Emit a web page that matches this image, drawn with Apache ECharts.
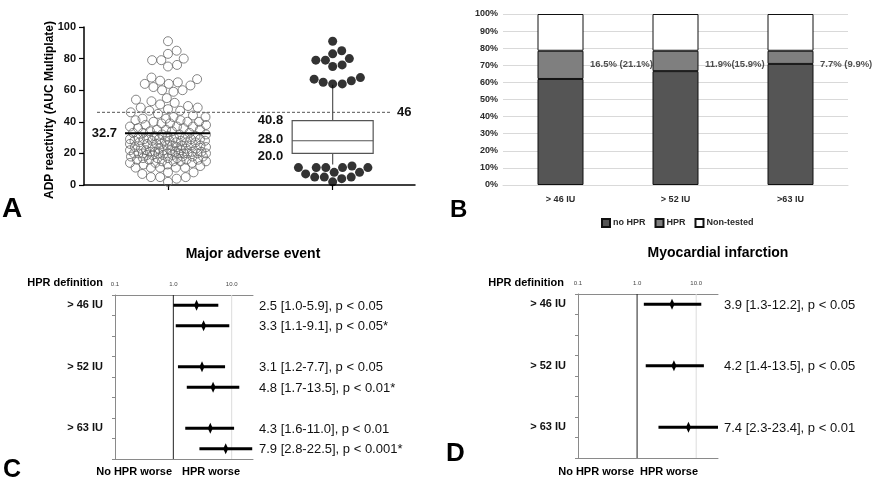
<!DOCTYPE html>
<html>
<head>
<meta charset="utf-8">
<script src="https://cdn.jsdelivr.net/npm/echarts@6/dist/echarts.min.js"></script>
<style>html,body{margin:0;padding:0;background:#fff}#c{width:872px;height:480px}</style>
</head>
<body>
<div id="c"></div>
<script>
// ---------- Panel A data ----------
const adpValues = [
  91, 85, 83, 80, 79, 79, 76, 75, 68, 67, 66, 65, 64, 64,
  63, 62, 60, 60, 59, 55, 54, 53, 52, 51, 50, 49, 49, 48, 47, 47, 46, 45, 44, 43, 43, 42, 42, 41, 41,
  40, 40, 40, 39, 39, 38, 38, 37, 37, 37, 36, 36, 35, 35, 35, 34, 34, 33, 33, 33, 32, 32, 32, 31, 31, 31,
  30, 30, 30, 30, 29, 29, 29, 29, 29, 28, 28, 28, 28, 28, 28,
  27, 27, 27, 27, 26, 26, 26, 26, 25, 25, 25, 25, 25, 24, 24, 24, 24, 23, 23, 23, 23, 22, 22, 22, 22, 22,
  21, 21, 21, 21, 21, 20, 20, 20, 20, 20, 20, 20, 20, 20, 20,
  19, 19, 19, 19, 18, 18, 18, 18, 17, 17, 17, 17, 16, 16, 16, 16, 15, 15, 15, 15, 14, 14, 14, 13, 13,
  12, 11, 11, 11, 11, 11, 8, 8, 7, 5, 5, 5, 4, 2
];
const adpMean = 32.7;
const adpQ1 = 20.0, adpMedian = 28.0, adpQ3 = 40.8;
const adpWhiskerLow = 13.0, adpWhiskerHigh = 63.5;
const adpThreshold = 46;

// ---------- Panel B data ----------
const bCategories = ['> 46 IU', '> 52 IU', '>63 IU'];
const bNoHPR = [62.0, 66.6, 70.8];
const bHPR = [16.5, 11.9, 7.7];
const bNonTested = [21.5, 21.5, 21.5];
const bNotes = ['16.5% (21.1%)', '11.9%(15.9%)', '7.7% (9.9%)'];
const bNoteLevel = 70.8;

// ---------- Panel C data ----------
const hprLabels = ['> 46 IU', '> 52 IU', '> 63 IU'];
const cSlots = [0, 1, 3, 4, 6, 7];
const cEst = [2.5, 3.3, 3.1, 4.8, 4.3, 7.9];
const cLo = [1.0, 1.1, 1.2, 1.7, 1.6, 2.8];
const cHi = [5.9, 9.1, 7.7, 13.5, 11.0, 22.5];
const cP = ['p < 0.05', 'p < 0.05*', 'p < 0.05', 'p < 0.01*', 'p < 0.01', 'p < 0.001*'];

// ---------- Panel D data ----------
const dSlots = [0, 3, 6];
const dEst = [3.9, 4.2, 7.4];
const dLo = [1.3, 1.4, 2.3];
const dHi = [12.2, 13.5, 23.4];
const dP = ['p < 0.05', 'p < 0.05', 'p < 0.01'];

const logTicks = [0.1, 1, 10];
const refLine = 1;

// ---------- layout ----------
const FONT = '"Liberation Sans", Arial, sans-serif';
const gA = {left: 84, top: 27, width: 331, height: 158};
const gB = {left: 503, top: 14, width: 345, height: 171};
const gC = {left: 115, top: 295, width: 138, height: 164};
const gD = {left: 578, top: 294, width: 140, height: 164};
const axAMin = -0.51, axAMax = 1.5;
const pxX = gA.width / (axAMax - axAMin);
const pxY = gA.height / 100;

// beeswarm layout (pixel space), returns [xUnits, value]
function swarm(values, center, minDist, cap) {
  const pts = values.map(v => ({v: v, y: v * pxY})).sort((a, b) => a.y - b.y);
  const placed = [];
  const md2 = minDist * minDist;
  for (const p of pts) {
    const near = placed.filter(q => Math.abs(q.y - p.y) < minDist);
    const cands = [0];
    for (const q of near) {
      const dx = Math.sqrt(md2 - (q.y - p.y) * (q.y - p.y));
      cands.push(q.x + dx, q.x - dx);
    }
    cands.sort((a, b) => Math.abs(a) - Math.abs(b));
    let best = null;
    for (const c of cands) {
      if (Math.abs(c) > cap + 1e-6) continue;
      if (near.every(q => (q.x - c) * (q.x - c) + (q.y - p.y) * (q.y - p.y) >= md2 - 1e-6)) { best = c; break; }
    }
    if (best === null) {
      let bs = -Infinity;
      for (let c = -cap; c <= cap + 1e-6; c += 0.5) {
        const d = Math.min.apply(null, near.map(q => Math.hypot(q.x - c, q.y - p.y))) - 0.02 * Math.abs(c);
        if (d > bs) { bs = d; best = c; }
      }
    }
    p.x = best;
    placed.push(p);
  }
  return pts.map(p => [center + p.x / pxX, p.v]);
}

const group1 = swarm(adpValues, 0, 9.2, 38);
const outliers = adpValues.filter(v => v > adpWhiskerHigh || v < adpWhiskerLow);
const group2 = swarm(outliers, 1, 9.6, 45);

const cData = cSlots.map((s, i) => [cLo[i], cEst[i], cHi[i], s]);
const cText = cEst.map((e, i) => e.toFixed(1) + ' [' + cLo[i].toFixed(1) + '-' + cHi[i].toFixed(1) + '], ' + cP[i]);
const dData = dSlots.map((s, i) => [dLo[i], dEst[i], dHi[i], s]);
const dText = dEst.map((e, i) => e.toFixed(1) + ' [' + dLo[i].toFixed(1) + '-' + dHi[i].toFixed(1) + '], ' + dP[i]);
const slotNames = ['s0', 's1', 's2', 's3', 's4', 's5', 's6', 's7'];
const slotLabel = idx => (idx % 3 === 0 ? hprLabels[idx / 3] : '');

function forestRender(texts) {
  return function (params, api) {
    const lo = api.value(0), est = api.value(1), hi = api.value(2), slot = api.value(3);
    const a = api.coord([lo, slot]), b = api.coord([hi, slot]), e = api.coord([est, slot]);
    const cs = params.coordSys;
    return {
      type: 'group',
      children: [
        {type: 'line', shape: {x1: a[0], y1: a[1], x2: b[0], y2: b[1]}, style: {stroke: '#000', lineWidth: 3}},
        {type: 'polygon', shape: {points: [[e[0], e[1] - 5.5], [e[0] + 2.5, e[1]], [e[0], e[1] + 5.5], [e[0] - 2.5, e[1]]]}, style: {fill: '#000'}},
        {type: 'text', style: {text: texts[params.dataIndex], x: cs.x + cs.width + 6, y: e[1] + 1, font: '13px ' + FONT, fill: '#111', align: 'left', verticalAlign: 'middle'}}
      ]
    };
  };
}
// vertical reference / grid lines through the whole forest plot box
function vlineRender(params, api) {
  const x = api.coord([api.value(0), 0])[0];
  const cs = params.coordSys;
  const isRef = api.value(0) === refLine;
  return {type: 'line', shape: {x1: x, y1: cs.y, x2: x, y2: cs.y + cs.height},
    style: {stroke: isRef ? '#222' : '#dcdcdc', lineWidth: 1}};
}

function logXAxis(grid, max, top) {
  return {
    type: 'log', logBase: 10, gridIndex: grid, min: 0.1, max: max, position: top ? 'top' : 'bottom',
    axisLine: {show: true, onZero: false, lineStyle: {color: '#8a8a8a', width: 1}},
    axisTick: {show: false},
    axisLabel: top ? {show: true, customValues: logTicks, fontSize: 6, color: '#444', margin: 8, fontFamily: FONT, formatter: v => Number(v).toFixed(1)} : {show: false},
    splitLine: {show: false}
  };
}
function slotYAxis(grid) {
  return {
    type: 'category', gridIndex: grid, data: slotNames, inverse: true,
    axisLine: {show: true, onZero: false, lineStyle: {color: '#8a8a8a'}},
    axisTick: {show: true, length: 3, lineStyle: {color: '#8a8a8a'}},
    axisLabel: {show: true, interval: 0, formatter: (v, i) => slotLabel(i), fontSize: 11, fontWeight: 'bold', color: '#111', margin: 12, fontFamily: FONT},
    splitLine: {show: false}
  };
}

const txt = (text, x, y, size, opts) => Object.assign({
  type: 'text', x: x, y: y,
  style: {text: text, font: 'bold ' + size + 'px ' + FONT, fill: '#000', align: (opts && opts.align) || 'left', verticalAlign: 'middle'}
}, opts && opts.rotation ? {rotation: opts.rotation} : {});

const option = {
  backgroundColor: '#fff',
  animation: false,
  textStyle: {fontFamily: FONT},
  grid: [
    Object.assign({}, gA, {containLabel: false}),
    Object.assign({}, gB, {containLabel: false}),
    Object.assign({}, gC, {containLabel: false}),
    Object.assign({}, gD, {containLabel: false})
  ],
  legend: {
    left: 596, top: 213, itemWidth: 8, itemHeight: 8, itemGap: 9, selectedMode: false,
    icon: 'rect',
    data: ['no HPR', 'HPR', 'Non-tested'],
    textStyle: {fontSize: 9, fontWeight: 'bold', color: '#2a2a2a', fontFamily: FONT, padding: [0, 0, 0, -2]}
  },
  xAxis: [
    {type: 'value', gridIndex: 0, min: axAMin, max: axAMax,
     axisLine: {show: true, onZero: false, lineStyle: {color: '#000', width: 1.5}},
     axisTick: {show: true, customValues: [0, 1], length: 5, lineStyle: {color: '#000', width: 1.2}},
     axisLabel: {show: false}, splitLine: {show: false}},
    {type: 'category', gridIndex: 1, data: bCategories,
     axisLine: {show: true, lineStyle: {color: '#d9d9d9'}}, axisTick: {show: false},
     axisLabel: {fontSize: 9, fontWeight: 'bold', color: '#2a2a2a', margin: 10, fontFamily: FONT}},
    logXAxis(2, 23.2, true), logXAxis(2, 23.2, false),
    logXAxis(3, 23.4, true), logXAxis(3, 23.4, false)
  ],
  yAxis: [
    {type: 'value', gridIndex: 0, min: 0, max: 100, interval: 20,
     axisLine: {show: true, onZero: false, lineStyle: {color: '#000', width: 1.5}},
     axisTick: {show: true, length: 5, lineStyle: {color: '#000', width: 1.2}},
     axisLabel: {fontSize: 11, fontWeight: 'bold', color: '#111', margin: 8, fontFamily: FONT},
     splitLine: {show: false}},
    {type: 'value', gridIndex: 1, min: 0, max: 100, interval: 10,
     axisLine: {show: false}, axisTick: {show: false},
     axisLabel: {formatter: '{value}%', fontSize: 9, fontWeight: 'bold', color: '#2a2a2a', margin: 5, fontFamily: FONT},
     splitLine: {show: true, lineStyle: {color: '#d9d9d9'}}},
    slotYAxis(2), slotYAxis(3)
  ],
  series: [
    // Panel A
    {type: 'custom', name: 'threshold', xAxisIndex: 0, yAxisIndex: 0, z: 1, silent: true,
     data: [[-0.431, adpThreshold, 1.36]], encode: {x: [0, 2], y: 1},
     renderItem: function (params, api) {
       const a = api.coord([api.value(0), api.value(1)]), b = api.coord([api.value(2), api.value(1)]);
       return {type: 'group', children: [
         {type: 'line', shape: {x1: a[0], y1: a[1], x2: b[0], y2: b[1]}, style: {stroke: '#555', lineWidth: 1, lineDash: [3, 2]}},
         {type: 'text', style: {text: String(api.value(1)), x: b[0] + 5, y: b[1], font: 'bold 13px ' + FONT, fill: '#111', align: 'left', verticalAlign: 'middle'}}
       ]};
     }},
    {type: 'scatter', name: 'all', xAxisIndex: 0, yAxisIndex: 0, data: group1, symbol: 'circle', symbolSize: 9,
     itemStyle: {color: 'rgba(0,0,0,0)', borderColor: '#686868', borderWidth: 1}, z: 2, silent: true},
    {type: 'scatter', name: 'outliers', xAxisIndex: 0, yAxisIndex: 0, data: group2, symbol: 'circle', symbolSize: 9,
     itemStyle: {color: '#000'}, z: 4, silent: true},
    {type: 'custom', name: 'box', xAxisIndex: 0, yAxisIndex: 0, z: 3, silent: true,
     data: [[1, adpWhiskerLow, adpQ1, adpMedian, adpQ3, adpWhiskerHigh]],
     encode: {x: 0, y: [1, 2, 3, 4, 5]},
     renderItem: function (params, api) {
       const c = api.value(0);
       const lw = api.coord([c, api.value(1)]), q1 = api.coord([c, api.value(2)]), md = api.coord([c, api.value(3)]),
             q3 = api.coord([c, api.value(4)]), hw = api.coord([c, api.value(5)]);
       const x = q1[0], h = 40.5;
       const st = {stroke: '#555', lineWidth: 1.2};
       const lab = (v, y) => ({type: 'text', style: {text: v.toFixed(1), x: x - h - 9, y: y, font: 'bold 13px ' + FONT, fill: '#111', align: 'right', verticalAlign: 'middle'}});
       return {type: 'group', children: [
         {type: 'line', shape: {x1: x, y1: hw[1], x2: x, y2: q3[1]}, style: st},
         {type: 'line', shape: {x1: x, y1: q1[1], x2: x, y2: lw[1]}, style: st},
         {type: 'rect', shape: {x: x - h, y: q3[1], width: 2 * h, height: q1[1] - q3[1]}, style: {fill: '#fff', stroke: '#555', lineWidth: 1.2}},
         {type: 'line', shape: {x1: x - h, y1: md[1], x2: x + h, y2: md[1]}, style: st},
         lab(api.value(4), q3[1]), lab(api.value(3), md[1] - 1), lab(api.value(2), q1[1] + 3)
       ]};
     }},
    {type: 'custom', name: 'mean', xAxisIndex: 0, yAxisIndex: 0, z: 5, silent: true,
     data: [[0, adpMean]], encode: {x: 0, y: 1},
     renderItem: function (params, api) {
       const p = api.coord([api.value(0), api.value(1)]);
       return {type: 'group', children: [
         {type: 'line', shape: {x1: p[0] - 43, y1: p[1], x2: p[0] + 42, y2: p[1]}, style: {stroke: '#000', lineWidth: 2}},
         {type: 'text', style: {text: api.value(1).toFixed(1), x: p[0] - 51, y: p[1], font: 'bold 13px ' + FONT, fill: '#111', align: 'right', verticalAlign: 'middle'}}
       ]};
     }},
    // Panel B
    {type: 'bar', name: 'no HPR', xAxisIndex: 1, yAxisIndex: 1, stack: 'b', data: bNoHPR, barWidth: 46,
     itemStyle: {color: '#555555', borderColor: '#111', borderWidth: 1}},
    {type: 'bar', name: 'HPR', xAxisIndex: 1, yAxisIndex: 1, stack: 'b', data: bHPR, barWidth: 46,
     itemStyle: {color: '#7f7f7f', borderColor: '#111', borderWidth: 1}},
    {type: 'bar', name: 'Non-tested', xAxisIndex: 1, yAxisIndex: 1, stack: 'b', data: bNonTested, barWidth: 46,
     itemStyle: {color: '#ffffff', borderColor: '#111', borderWidth: 1}},
    {type: 'scatter', name: 'notes', xAxisIndex: 1, yAxisIndex: 1, symbolSize: 1, silent: true,
     itemStyle: {color: 'rgba(0,0,0,0)'},
     data: bCategories.map((c, i) => [i, bNoteLevel]),
     label: {show: true, position: 'right', distance: 29, formatter: p => bNotes[p.dataIndex],
       fontSize: 9.5, fontWeight: 'bold', color: '#222', fontFamily: FONT}},
    // Panel C
    {type: 'custom', name: 'C lines', xAxisIndex: 2, yAxisIndex: 2, z: 1, silent: true,
     data: [[refLine, 0], [logTicks[2], 0]], encode: {x: 0, y: 1}, renderItem: vlineRender},
    {type: 'custom', name: 'MAE', xAxisIndex: 2, yAxisIndex: 2, z: 3, data: cData, encode: {x: [0, 1, 2], y: 3},
     renderItem: forestRender(cText), silent: true},
    // Panel D
    {type: 'custom', name: 'D lines', xAxisIndex: 4, yAxisIndex: 3, z: 1, silent: true,
     data: [[refLine, 0], [logTicks[2], 0]], encode: {x: 0, y: 1}, renderItem: vlineRender},
    {type: 'custom', name: 'MI', xAxisIndex: 4, yAxisIndex: 3, z: 3, data: dData, encode: {x: [0, 1, 2], y: 3},
     renderItem: forestRender(dText), silent: true}
  ],
  graphic: [
    txt('A', 2, 209, 28),
    txt('B', 450, 210, 24),
    txt('C', 3, 470, 25),
    txt('D', 446, 454, 26),
    txt('ADP reactivity (AUC Multiplate)', 50, 110, 12, {align: 'center', rotation: Math.PI / 2}),
    txt('Major adverse event', 253, 254, 14, {align: 'center'}),
    txt('Myocardial infarction', 718, 253, 14, {align: 'center'}),
    txt('HPR definition', 103, 283, 11, {align: 'right'}),
    txt('HPR definition', 564, 283, 11, {align: 'right'}),
    txt('No HPR worse', 172, 472, 11, {align: 'right'}),
    txt('HPR worse', 182, 472, 11),
    txt('No HPR worse', 634, 472, 11, {align: 'right'}),
    txt('HPR worse', 640, 472, 11)
  ]
};

const chart = echarts.init(document.getElementById('c'), null, {renderer: 'canvas'});
chart.setOption(option);
</script>
</body>
</html>
